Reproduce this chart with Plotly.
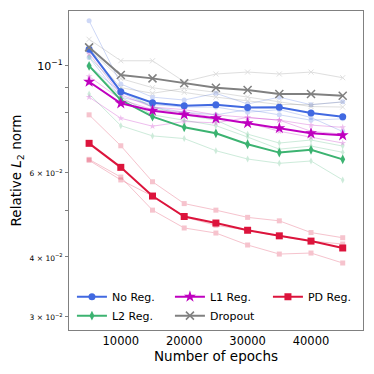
import plotly.graph_objects as go

epochs = [5000, 10000, 15000, 20000, 25000, 30000, 35000, 40000, 45000]

# Mean curves
no_reg = [0.1082, 0.0883, 0.0837, 0.0825, 0.0829, 0.0818, 0.0819, 0.0797, 0.0783]
l2_reg = [0.0999, 0.0848, 0.0783, 0.0744, 0.0723, 0.0686, 0.0659, 0.0668, 0.0638]
l1_reg = [0.0926, 0.0835, 0.0806, 0.0791, 0.0777, 0.0759, 0.0741, 0.0723, 0.0716]
dropout = [0.1092, 0.0956, 0.0941, 0.0919, 0.0900, 0.0890, 0.0873, 0.0873, 0.0866]
pd_reg = [0.0689, 0.0614, 0.0535, 0.0485, 0.0470, 0.0454, 0.0442, 0.0431, 0.0417]

# Individual runs (faint)
no_reg_runs = [
    [0.1240, 0.0916, 0.0860, 0.0848, 0.0876, 0.0832, 0.0860, 0.0829, 0.0841],
    [0.1040, 0.0860, 0.0830, 0.0820, 0.0820, 0.0800, 0.0810, 0.0780, 0.0729],
    [0.1000, 0.0880, 0.0820, 0.0800, 0.0790, 0.0810, 0.0790, 0.0770, 0.0775],
]
l2_runs = [
    [0.0873, 0.0750, 0.0714, 0.0705, 0.0665, 0.0639, 0.0626, 0.0633, 0.0578],
    [0.1044, 0.0890, 0.0820, 0.0790, 0.0770, 0.0720, 0.0690, 0.0700, 0.0680],
    [0.1000, 0.0860, 0.0790, 0.0770, 0.0750, 0.0710, 0.0670, 0.0680, 0.0660],
]
l1_runs = [
    [0.0860, 0.0777, 0.0748, 0.0765, 0.0760, 0.0780, 0.0770, 0.0730, 0.0720],
    [0.1060, 0.0870, 0.0820, 0.0810, 0.0790, 0.0780, 0.0770, 0.0752, 0.0744],
    [0.0950, 0.0850, 0.0810, 0.0800, 0.0780, 0.0760, 0.0730, 0.0710, 0.0690],
]
dropout_runs = [
    [0.1135, 0.1024, 0.1024, 0.0926, 0.0961, 0.0970, 0.0961, 0.0970, 0.0944],
    [0.1070, 0.0900, 0.0876, 0.0897, 0.0880, 0.0860, 0.0840, 0.0822, 0.0820],
    [0.1080, 0.0940, 0.0900, 0.0880, 0.0860, 0.0845, 0.0830, 0.0830, 0.0840],
]
pd_runs = [
    [0.0790, 0.0681, 0.0573, 0.0516, 0.0500, 0.0483, 0.0475, 0.0449, 0.0438],
    [0.0638, 0.0586, 0.0500, 0.0459, 0.0448, 0.0423, 0.0405, 0.0407, 0.0388],
    [0.0635, 0.0578, 0.0535, 0.0484, 0.0465, 0.0454, 0.0441, 0.0431, 0.0425],
]

series = [
    ("No Reg.", no_reg, no_reg_runs, "#4169E1", "circle", 1),
    ("L2 Reg.", l2_reg, l2_runs, "#3CB371", "diamond-tall", 4),
    ("L1 Reg.", l1_reg, l1_runs, "#BF00BF", "star", 2),
    ("Dropout", dropout, dropout_runs, "#808080", "x-thin", 5),
    ("PD Reg.", pd_reg, pd_runs, "#DC143C", "square", 3),
]

ytick_vals = [0.03, 0.04, 0.05, 0.06, 0.07, 0.08, 0.09, 0.1]
small = "<span style='font-size:7.5px'>%s</span>"
ytick_text = [small % "3 × 10<sup>−2</sup>", small % "4 × 10<sup>−2</sup>", "",
              small % "6 × 10<sup>−2</sup>", "", "", "", "10<sup>−1</sup>"]

fig = go.Figure()

for name, mean, runs, color, sym, rank in series:
    for r in runs:
        mk = dict(symbol=sym, size=5, color=color)
        if sym == "x-thin":
            mk["line"] = dict(color=color, width=1)
        fig.add_trace(go.Scatter(x=epochs, y=r, mode="lines+markers", opacity=0.25,
                                 line=dict(color=color, width=1), marker=mk,
                                 showlegend=False, hoverinfo="skip"))

for name, mean, runs, color, sym, rank in series:
    mk = dict(symbol=sym, size=7 if sym != "star" else 9, color=color)
    if sym == "x-thin":
        mk["line"] = dict(color=color, width=1.5)
        mk["size"] = 8
    fig.add_trace(go.Scatter(x=epochs, y=mean, mode="lines+markers", name=name,
                             line=dict(color=color, width=2), marker=mk,
                             legendrank=rank))

fig.update_layout(
    width=366, height=366,
    margin=dict(l=61, r=11, t=3, b=44, autoexpand=False),
    paper_bgcolor="white", plot_bgcolor="white",
    font=dict(family="DejaVu Sans", size=11, color="black"),
    legend=dict(orientation="h", x=0.01, y=0.15, xanchor="left", yanchor="top",
                bgcolor="rgba(0,0,0,0)", font=dict(size=11),
                entrywidth=53, entrywidthmode="pixels", tracegroupgap=0,
                itemwidth=30),
)
fig.update_xaxes(range=[1830, 48200], tickvals=[10000, 20000, 30000, 40000],
                 ticktext=["10000", "20000", "30000", "40000"],
                 showgrid=False, zeroline=False, showline=True, mirror=True,
                 linecolor="#808080", linewidth=1.2, ticks="", tickfont=dict(size=11.5),
                 title=dict(text="Number of epochs", font=dict(size=13.5), standoff=4))
fig.update_yaxes(type="log", range=[-1.5508, -0.886], tickvals=ytick_vals, ticktext=ytick_text,
                 showgrid=False, zeroline=False, showline=True, mirror=True,
                 linecolor="#808080", linewidth=1.2, ticks="outside", ticklen=3,
                 tickcolor="#808080", tickfont=dict(size=11),
                 title=dict(text="Relative <i>L</i><sub>2</sub> norm", font=dict(size=13.5), standoff=6))

fig.write_html("out.html")
